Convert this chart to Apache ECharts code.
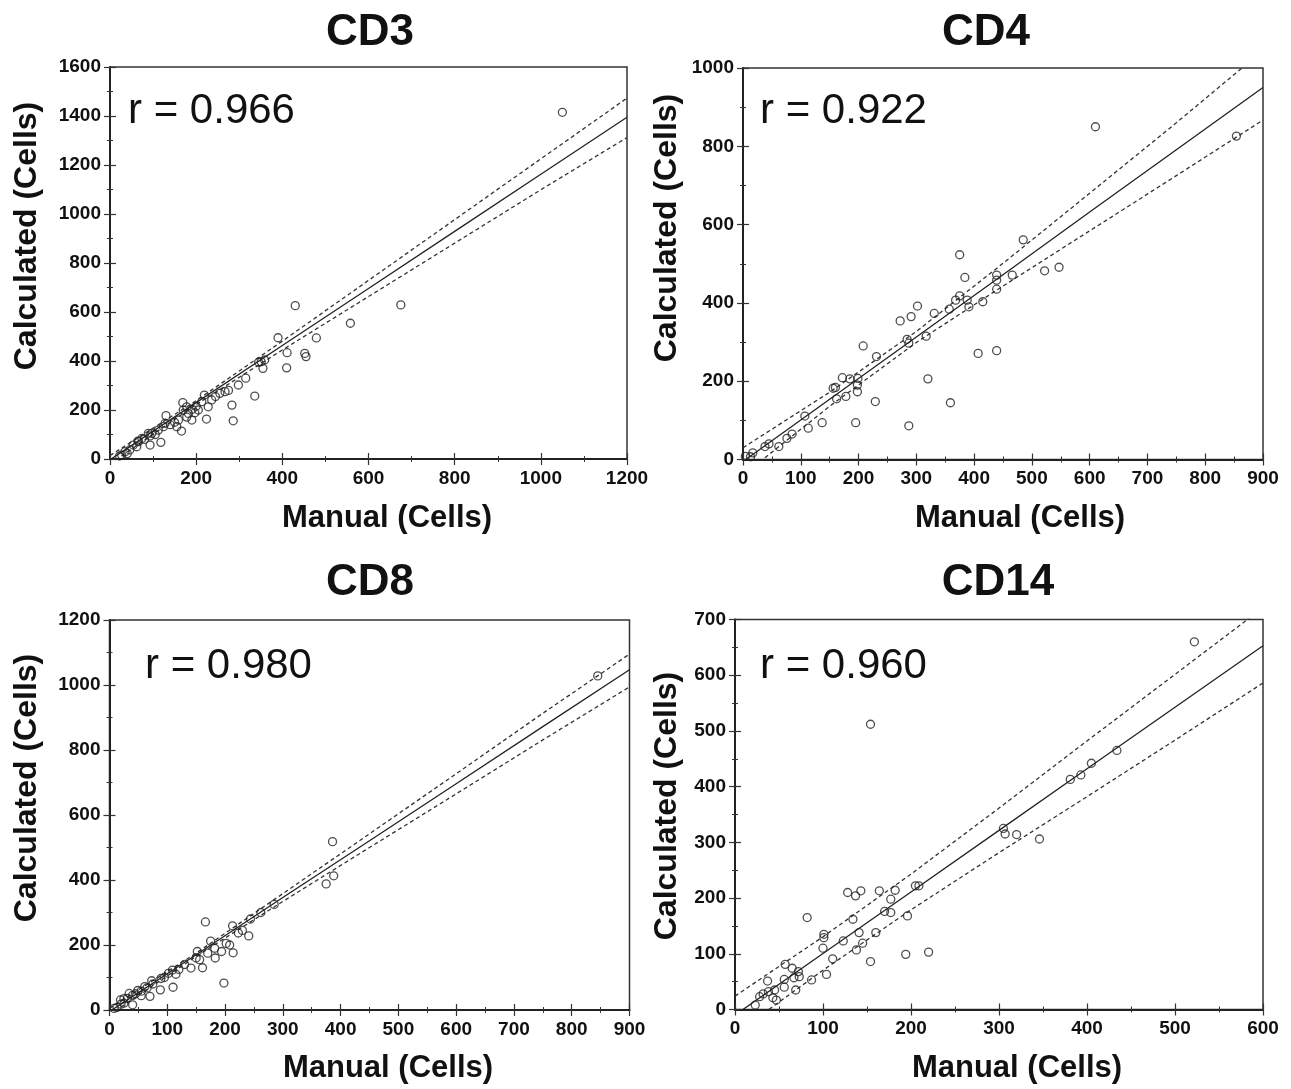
<!DOCTYPE html>
<html>
<head>
<meta charset="utf-8">
<script src="https://cdn.jsdelivr.net/npm/echarts@6/dist/echarts.min.js"></script>
<style>
html,body{margin:0;padding:0;background:#fff;}
#chart{width:1291px;height:1089px;}
</style>
</head>
<body>
<div id="chart"></div>
<script>
// ---------------- DATA ----------------
const panelTitles = ['CD3', 'CD4', 'CD8', 'CD14'];
const rLabels = ['r = 0.966', 'r = 0.922', 'r = 0.980', 'r = 0.960'];
const xAxisName = 'Manual (Cells)';
const yAxisName = 'Calculated (Cells)';

// [manual, calculated]
const cd3Points = [[1050,1415],[430,626],[675,629],[558,554],[479,494],[390,495],[411,434],[452,431],[455,418],[410,372],[351,397],[359,404],[355,370],[336,257],[283,220],[286,156],[224,163],[219,261],[169,230],[166,114],[130,177],[128,146],[118,68],[178,213],[191,203],[182,186],[197,189],[190,159],[178,171],[213,234],[236,241],[228,213],[255,268],[267,275],[298,302],[315,330],[89,105],[66,71],[62,50],[35,30],[27,16],[46,37],[93,57],[112,118],[97,105],[124,132],[155,132],[159,159],[74,84],[54,57],[93,94],[65,73],[22,12],[40,22],[205,200],[200,215],[245,255],[345,395],[150,150],[140,140],[80,80],[105,100],[275,280],[170,200]];
const cd4Points = [[610,850],[854,826],[485,561],[375,523],[384,465],[522,482],[547,491],[466,471],[439,471],[439,458],[439,435],[415,403],[388,407],[391,390],[375,418],[368,407],[357,384],[331,373],[302,392],[291,365],[272,354],[317,315],[284,307],[287,297],[208,290],[231,263],[407,271],[439,278],[320,206],[359,145],[287,86],[229,148],[195,94],[199,207],[198,190],[198,173],[185,206],[172,209],[156,182],[160,184],[162,155],[178,161],[137,94],[107,111],[113,80],[85,65],[76,54],[62,33],[45,40],[38,33],[17,17],[13,7],[4,8]];
const cd8Points = [[845,1028],[386,518],[388,413],[375,388],[166,271],[244,280],[241,228],[213,259],[223,237],[214,176],[208,200],[194,180],[183,160],[175,212],[161,130],[152,180],[156,155],[141,129],[198,83],[110,70],[109,123],[102,113],[88,62],[89,97],[73,90],[61,72],[70,42],[55,44],[49,60],[34,51],[31,36],[40,16],[25,21],[13,8],[19,31],[182,190],[202,205],[120,125],[130,140],[95,100],[75,80],[65,68],[45,50],[230,245],[262,300],[285,325],[170,175],[150,160],[115,110],[55,58],[20,18],[8,5],[25,35],[40,45]];
const cd14Points = [[522,660],[154,512],[434,465],[405,442],[393,421],[381,413],[305,325],[307,315],[320,314],[346,306],[205,222],[209,222],[182,214],[164,213],[143,213],[128,210],[137,204],[177,198],[170,176],[177,174],[196,168],[134,162],[82,165],[160,138],[141,138],[123,123],[145,119],[101,135],[101,129],[100,110],[138,107],[111,91],[154,86],[194,99],[220,103],[104,63],[87,53],[57,81],[65,74],[72,68],[67,57],[73,59],[69,35],[56,40],[37,51],[45,35],[43,21],[47,17],[32,28],[38,32],[28,23],[23,8],[56,54]];

// regression line and confidence band
const cd3FitX  = [0, 200, 400, 600, 800, 1000, 1200];
const cd3Fit   = [-3, 230, 463, 696, 929, 1162, 1395];
const cd3Upper = [14, 238, 481, 729, 977, 1225, 1473];
const cd3Lower = [-20, 222, 445, 663, 881, 1099, 1312];

const cd4FitX  = [0, 150, 300, 450, 600, 750, 900];
const cd4Fit   = [-5, 154, 313, 472, 632, 791, 950];
const cd4Upper = [30, 172, 327, 501, 680, 860, 1045];
const cd4Lower = [-40, 136, 299, 443, 584, 725, 867];

const cd8FitX  = [0, 150, 300, 450, 600, 750, 900];
const cd8Fit   = [-5, 170, 346, 521, 696, 872, 1047];
const cd8Upper = [5, 175, 358, 542, 727, 913, 1095];
const cd8Lower = [-15, 165, 334, 500, 665, 831, 994];

const cd14FitX  = [0, 100, 200, 300, 400, 500, 600];
const cd14Fit   = [-10, 100.5, 211, 321.5, 432, 542.5, 653];
const cd14Upper = [24, 130.5, 243, 361.5, 482, 601.5, 721];
const cd14Lower = [-44, 70.5, 179, 281.5, 382, 483.5, 586];

// axis ranges / tick intervals
const xMax = [1200, 900, 900, 600];
const xInterval = [200, 100, 100, 100];
const yMax = [1600, 1000, 1200, 700];
const yInterval = [200, 200, 200, 100];

// ---------------- LAYOUT ----------------
const FONT = "'Liberation Sans', Arial, Helvetica, sans-serif";
const grids = [
  {left:110, top:67, width:517, height:392},
  {left:743, top:68, width:520, height:391.5},
  {left:109.5, top:620, width:520, height:390},
  {left:735, top:619.5, width:528, height:390}
];
const allPoints = [cd3Points, cd4Points, cd8Points, cd14Points];
const fitX = [cd3FitX, cd4FitX, cd8FitX, cd14FitX];
const fitY = [cd3Fit, cd4Fit, cd8Fit, cd14Fit];
const upY = [cd3Upper, cd4Upper, cd8Upper, cd14Upper];
const loY = [cd3Lower, cd4Lower, cd8Lower, cd14Lower];

const titlePos = [[370, 33], [986, 33], [370, 583], [998, 583]];
const rPos = [[128, 111], [760, 111], [145, 666], [760, 666]];
const yNamePos = [[27, 236], [667, 228], [27, 788], [667, 806]];
const xNamePos = [[387, 518], [1020, 518], [388, 1068], [1017, 1068]];

const pair = (xs, ys) => xs.map((x, i) => [x, ys[i]]);
const plain = v => String(v);

const option = {
  animation: false,
  backgroundColor: '#fff',
  grid: grids.map(g => Object.assign({show:true, borderColor:'#333', borderWidth:1.5, backgroundColor:'transparent'}, g)),
  xAxis: [],
  yAxis: [],
  series: [],
  graphic: []
};

for (let i = 0; i < 4; i++) {
  const tick = {show:true, inside:true, length:6, lineStyle:{color:'#333', width:1.2}};
  const minor = {show:true, splitNumber:2, length:3, lineStyle:{color:'#333', width:1}};
  option.xAxis.push({
    type:'value', gridIndex:i, min:0, max:xMax[i], interval:xInterval[i], position:'bottom',
    axisLine:{show:true, onZero:false, lineStyle:{color:'#222', width:2}},
    axisTick:tick, minorTick:minor, splitLine:{show:false},
    axisLabel:{show:true, formatter:plain, fontFamily:FONT, fontWeight:'bold', fontSize:19, color:'#111', margin:10}
  });
  option.xAxis.push({
    type:'value', gridIndex:i, min:0, max:xMax[i], interval:xInterval[i], position:'top',
    axisLine:{show:false}, axisTick:tick, minorTick:minor, splitLine:{show:false}, axisLabel:{show:false}
  });
  option.yAxis.push({
    type:'value', gridIndex:i, min:0, max:yMax[i], interval:yInterval[i], position:'left',
    axisLine:{show:true, onZero:false, lineStyle:{color:'#222', width:2}},
    axisTick:tick, minorTick:minor, splitLine:{show:false},
    axisLabel:{show:true, formatter:plain, fontFamily:FONT, fontWeight:'bold', fontSize:19, color:'#111', margin:9}
  });
  option.yAxis.push({
    type:'value', gridIndex:i, min:0, max:yMax[i], interval:yInterval[i], position:'right',
    axisLine:{show:false}, axisTick:tick, minorTick:minor, splitLine:{show:false}, axisLabel:{show:false}
  });

  const xi = i * 2, yi = i * 2;
  option.series.push({
    type:'line', xAxisIndex:xi, yAxisIndex:yi, data:pair(fitX[i], fitY[i]),
    showSymbol:false, clip:true, lineStyle:{color:'#222', width:1.3}, z:3
  });
  option.series.push({
    type:'line', xAxisIndex:xi, yAxisIndex:yi, data:pair(fitX[i], upY[i]),
    showSymbol:false, clip:true, lineStyle:{color:'#333', width:1.3, type:[4,3]}, z:3
  });
  option.series.push({
    type:'line', xAxisIndex:xi, yAxisIndex:yi, data:pair(fitX[i], loY[i]),
    showSymbol:false, clip:true, lineStyle:{color:'#333', width:1.3, type:[4,3]}, z:3
  });
  option.series.push({
    type:'scatter', xAxisIndex:xi, yAxisIndex:yi, data:allPoints[i],
    symbol:'circle', symbolSize:8,
    itemStyle:{color:'rgba(0,0,0,0)', borderColor:'#222', borderWidth:1.3}, z:4
  });

  option.graphic.push({
    type:'text', x:titlePos[i][0], y:titlePos[i][1],
    style:{text:panelTitles[i], font:'bold 44px ' + FONT, fill:'#111', textAlign:'center', textVerticalAlign:'middle'}
  });
  option.graphic.push({
    type:'text', x:rPos[i][0], y:rPos[i][1],
    style:{text:rLabels[i], font:'42px ' + FONT, fill:'#111', textAlign:'left', textVerticalAlign:'middle'}
  });
  option.graphic.push({
    type:'text', x:xNamePos[i][0], y:xNamePos[i][1],
    style:{text:xAxisName, font:'bold 31px ' + FONT, fill:'#111', textAlign:'center', textVerticalAlign:'middle'}
  });
  option.graphic.push({
    type:'text', x:yNamePos[i][0], y:yNamePos[i][1], rotation:Math.PI / 2,
    style:{text:yAxisName, font:'bold 32px ' + FONT, fill:'#111', textAlign:'center', textVerticalAlign:'middle'}
  });
}

const chart = echarts.init(document.getElementById('chart'), null, {renderer:'canvas'});
chart.setOption(option);
</script>
</body>
</html>
